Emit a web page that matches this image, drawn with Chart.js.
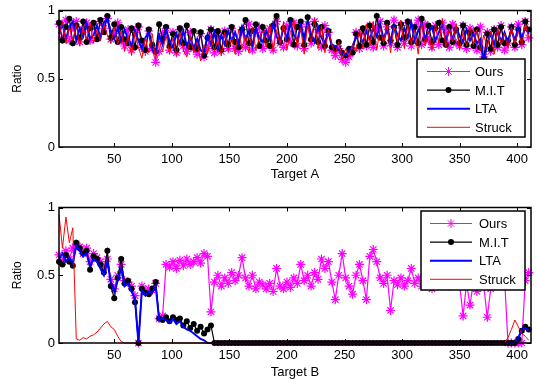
<!DOCTYPE html>
<html>
<head>
<meta charset="utf-8">
<script src="https://cdn.jsdelivr.net/npm/chart.js@4/dist/chart.umd.min.js"></script>
<style>
  body { margin: 0; background: #fff; }
  #wrap { position: relative; width: 537px; height: 380px; }
  #chartA { position: absolute; left: 0; top: 0; }
  #chartB { position: absolute; left: 0; top: 197px; }
</style>
</head>
<body>
<div id="wrap">
  <canvas id="chartA" width="537" height="184"></canvas>
  <canvas id="chartB" width="537" height="183"></canvas>
</div>
<script>
// frame numbers (every 3rd frame)
const frames = [
  2,5,8,11,14,17,20,23,26,29,
  32,35,38,41,44,47,50,53,56,59,
  62,65,68,71,74,77,80,83,86,89,
  92,95,98,101,104,107,110,113,116,119,
  122,125,128,131,134,137,140,143,146,149,
  152,155,158,161,164,167,170,173,176,179,
  182,185,188,191,194,197,200,203,206,209,
  212,215,218,221,224,227,230,233,236,239,
  242,245,248,251,254,257,260,263,266,269,
  272,275,278,281,284,287,290,293,296,299,
  302,305,308,311,314,317,320,323,326,329,
  332,335,338,341,344,347,350,353,356,359,
  362,365,368,371,374,377,380,383,386,389,
  392,395,398,401,404,407,410
];
const xTicks = [50, 100, 150, 200, 250, 300, 350, 400];
const yTicks = [0, 0.5, 1];
const seriesNames = ['Ours', 'M.I.T', 'LTA', 'Struck'];

// Target A
const oursA = [
  0.90,0.79,0.93,0.78,0.88,0.92,0.77,0.86,0.91,0.78,
  0.89,0.80,0.92,0.87,0.94,0.79,0.83,0.91,0.78,0.74,
  0.86,0.71,0.84,0.88,0.73,0.70,0.85,0.72,0.62,0.70,
  0.83,0.87,0.71,0.84,0.69,0.86,0.74,0.70,0.84,0.72,
  0.68,0.83,0.66,0.72,0.86,0.69,0.82,0.70,0.85,0.72,
  0.87,0.72,0.70,0.86,0.73,0.90,0.71,0.84,0.88,0.72,
  0.84,0.87,0.71,0.92,0.76,0.73,0.89,0.77,0.91,0.74,
  0.88,0.72,0.90,0.76,0.92,0.86,0.73,0.89,0.84,0.71,
  0.67,0.72,0.64,0.62,0.66,0.71,0.84,0.72,0.86,0.74,
  0.89,0.73,0.87,0.92,0.74,0.88,0.76,0.93,0.73,0.89,
  0.76,0.91,0.74,0.88,0.93,0.75,0.90,0.78,0.73,0.89,
  0.75,0.91,0.86,0.73,0.90,0.76,0.74,0.89,0.72,0.87,
  0.85,0.71,0.88,0.66,0.84,0.70,0.86,0.73,0.89,0.71,
  0.76,0.88,0.73,0.90,0.75,0.92,0.80
];
const mitA = [
  0.91,0.78,0.88,0.94,0.76,0.89,0.80,0.92,0.77,0.87,
  0.91,0.79,0.93,0.84,0.96,0.80,0.90,0.77,0.88,0.79,
  0.76,0.87,0.73,0.89,0.78,0.71,0.86,0.75,0.70,0.90,
  0.79,0.88,0.74,0.83,0.71,0.87,0.76,0.89,0.73,0.85,
  0.72,0.84,0.67,0.80,0.86,0.73,0.85,0.71,0.84,0.75,
  0.88,0.77,0.73,0.86,0.93,0.76,0.85,0.90,0.74,0.88,
  0.78,0.74,0.89,0.96,0.77,0.87,0.79,0.93,0.75,0.88,
  0.92,0.75,0.95,0.79,0.90,0.77,0.88,0.74,0.85,0.73,
  0.72,0.77,0.69,0.67,0.72,0.69,0.83,0.74,0.87,0.75,
  0.89,0.77,0.96,0.80,0.76,0.91,0.78,0.88,0.75,0.90,
  0.80,0.92,0.77,0.88,0.76,0.94,0.79,0.89,0.77,0.87,
  0.91,0.78,0.75,0.88,0.77,0.86,0.76,0.89,0.75,0.84,
  0.74,0.86,0.73,0.65,0.83,0.72,0.86,0.75,0.88,0.76,
  0.78,0.88,0.75,0.86,0.77,0.92,0.86
];
const ltaA = [
  0.83,0.90,0.79,0.88,0.92,0.78,0.87,0.81,0.90,0.79,
  0.82,0.89,0.80,0.91,0.94,0.85,0.79,0.87,0.78,0.86,
  0.79,0.74,0.85,0.78,0.72,0.80,0.84,0.71,0.68,0.82,
  0.75,0.86,0.78,0.73,0.83,0.76,0.85,0.74,0.80,0.72,
  0.79,0.71,0.69,0.82,0.75,0.84,0.72,0.82,0.75,0.85,
  0.78,0.84,0.76,0.88,0.79,0.85,0.74,0.87,0.80,0.77,
  0.85,0.79,0.90,0.81,0.76,0.88,0.79,0.91,0.82,0.78,
  0.89,0.80,0.92,0.83,0.77,0.88,0.80,0.76,0.85,0.75,
  0.74,0.71,0.69,0.67,0.70,0.74,0.80,0.83,0.76,0.85,
  0.79,0.87,0.81,0.90,0.79,0.86,0.77,0.89,0.82,0.78,
  0.87,0.80,0.91,0.78,0.85,0.90,0.79,0.84,0.88,0.78,
  0.84,0.90,0.78,0.86,0.79,0.88,0.81,0.77,0.86,0.78,
  0.83,0.76,0.79,0.62,0.76,0.83,0.75,0.85,0.77,0.84,
  0.76,0.86,0.78,0.88,0.80,0.87,0.83
];
const struckA = [
  0.80,0.92,0.76,0.88,0.78,0.90,0.74,0.87,0.79,0.91,
  0.76,0.86,0.78,0.89,0.82,0.76,0.88,0.75,0.85,0.70,
  0.82,0.67,0.84,0.73,0.65,0.80,0.69,0.83,0.64,0.78,
  0.70,0.82,0.68,0.80,0.67,0.84,0.71,0.66,0.81,0.69,
  0.77,0.63,0.75,0.68,0.82,0.70,0.79,0.67,0.84,0.70,
  0.80,0.68,0.86,0.72,0.82,0.69,0.88,0.71,0.80,0.85,
  0.73,0.90,0.70,0.86,0.75,0.92,0.71,0.84,0.93,0.73,
  0.87,0.68,0.90,0.76,0.94,0.72,0.89,0.69,0.86,0.75,
  0.68,0.77,0.64,0.72,0.66,0.75,0.70,0.86,0.72,0.90,
  0.74,0.92,0.71,0.87,0.76,0.90,0.69,0.88,0.77,0.93,
  0.72,0.89,0.75,0.86,0.68,0.91,0.74,0.85,0.71,0.90,
  0.76,0.94,0.73,0.87,0.77,0.90,0.71,0.84,0.74,0.88,
  0.75,0.86,0.70,0.82,0.73,0.85,0.68,0.87,0.75,0.83,
  0.72,0.88,0.76,0.85,0.74,0.90,0.80
];

// Target B
const oursB = [
  0.65,0.60,0.68,0.62,0.70,0.73,0.71,0.66,0.70,0.60,
  0.66,0.63,0.60,0.56,0.62,0.47,0.40,0.50,0.58,0.46,
  0.45,0.42,0.35,0,0.42,0.38,0.40,0.39,0.44,0.18,
  0.20,0.58,0.56,0.60,0.55,0.61,0.57,0.62,0.58,0.60,
  0.63,0.59,0.66,0.64,0.23,0.45,0.50,0.42,0.48,0.44,
  0.52,0.46,0.50,0.63,0.48,0.42,0.50,0.40,0.45,0.43,
  0.40,0.44,0.38,0.55,0.42,0.40,0.45,0.41,0.48,0.44,
  0.58,0.46,0.50,0.42,0.52,0.47,0.62,0.55,0.60,0.45,
  0.32,0.50,0.66,0.48,0.42,0.36,0.50,0.58,0.46,0.32,
  0.64,0.69,0.60,0.48,0.44,0.50,0.24,0.46,0.43,0.48,
  0.42,0.46,0.55,0.44,0.48,0.42,0.50,0.45,0.40,0.47,
  0.52,0.44,0.48,0.42,0.50,0.46,0.43,0.20,0.44,0.28,
  0.45,0.38,0.47,0.42,0.19,0.40,0.46,0.52,0.58,0.48,
  0,0,0,0,0,0.46,0.52
];
const mitB = [
  0.60,0.58,0.65,0.60,0.57,0.74,0.70,0.66,0.68,0.54,
  0.64,0.62,0.58,0.52,0.68,0.42,0.33,0.48,0.62,0.44,
  0.46,0.40,0.30,0,0.40,0.37,0.36,0.40,0.45,0.18,
  0.17,0.19,0.16,0.19,0.17,0.18,0.13,0.16,0.11,0.14,
  0.09,0.12,0.07,0.10,0.13,0,0,0,0,0,
  0,0,0,0,0,0,0,0,0,0,
  0,0,0,0,0,0,0,0,0,0,
  0,0,0,0,0,0,0,0,0,0,
  0,0,0,0,0,0,0,0,0,0,
  0,0,0,0,0,0,0,0,0,0,
  0,0,0,0,0,0,0,0,0,0,
  0,0,0,0,0,0,0,0,0,0,
  0,0,0,0,0,0,0,0,0,0,
  0,0,0,0.03,0.09,0.12,0.10
];
const ltaB = [
  0.62,0.66,0.60,0.63,0.59,0.72,0.68,0.64,0.66,0.57,
  0.62,0.60,0.55,0.50,0.60,0.45,0.38,0.46,0.55,0.42,
  0.44,0.38,0.33,0,0.39,0.35,0.38,0.37,0.42,0.17,
  0.18,0.17,0.15,0.18,0.14,0.16,0.12,0.10,0.09,0.07,
  0.05,0.03,0.02,0,0,0,0,0,0,0,
  0,0,0,0,0,0,0,0,0,0,
  0,0,0,0,0,0,0,0,0,0,
  0,0,0,0,0,0,0,0,0,0,
  0,0,0,0,0,0,0,0,0,0,
  0,0,0,0,0,0,0,0,0,0,
  0,0,0,0,0,0,0,0,0,0,
  0,0,0,0,0,0,0,0,0,0,
  0,0,0,0,0,0,0,0,0,0,
  0,0,0,0.04,0.10,0.11,0.09
];
const struckB = [
  0.95,0.70,0.93,0.74,0.85,0.03,0.02,0.04,0.03,0.05,
  0.06,0.08,0.11,0.14,0.16,0.12,0.10,0.05,0.01,0,
  0,0,0,0,0,0,0,0,0,0,
  0,0,0,0,0,0,0,0,0,0,
  0,0,0,0,0,0,0,0,0,0,
  0,0,0,0,0,0,0,0,0,0,
  0,0,0,0,0,0,0,0,0,0,
  0,0,0,0,0,0,0,0,0,0,
  0,0,0,0,0,0,0,0,0,0,
  0,0,0,0,0,0,0,0,0,0,
  0,0,0,0,0,0,0,0,0,0,
  0,0,0,0,0,0,0,0,0,0,
  0,0,0,0,0,0,0,0,0,0,
  0.04,0.10,0.17,0.12,0.07,0.05,0.02
];

const fontFamily = "'Liberation Sans', Arial, sans-serif";
const axisFont = { family: fontFamily, size: 13 };

function toPoints(values) {
  return values.map((v, i) => ({ x: frames[i], y: v }));
}

function drawMarker(ctx, style, r, cx, cy, color) {
  ctx.strokeStyle = color;
  ctx.fillStyle = color;
  ctx.lineWidth = 1;
  if (style === 'circle') {
    ctx.beginPath();
    ctx.arc(cx, cy, r, 0, Math.PI * 2);
    ctx.fill();
  } else if (style === 'star') {
    ctx.beginPath();
    for (let k = 0; k < 4; k++) {
      const a = k * Math.PI / 4;
      ctx.moveTo(cx - r * Math.cos(a), cy - r * Math.sin(a));
      ctx.lineTo(cx + r * Math.cos(a), cy + r * Math.sin(a));
    }
    ctx.stroke();
  }
}

// box, inward ticks and the in-axes legend (matlab look)
const framePlugin = {
  id: 'frame',
  afterDraw(chart, args, opts) {
    const { ctx, chartArea: a, scales: { x, y } } = chart;
    ctx.save();
    ctx.strokeStyle = '#000';
    ctx.lineWidth = 1.5;
    ctx.strokeRect(a.left, a.top, a.right - a.left, a.bottom - a.top);
    ctx.lineWidth = 1;
    ctx.beginPath();
    x.ticks.forEach(t => {
      const px = Math.round(x.getPixelForValue(t.value)) + 0.5;
      ctx.moveTo(px, a.bottom); ctx.lineTo(px, a.bottom - 4);
      ctx.moveTo(px, a.top); ctx.lineTo(px, a.top + 4);
    });
    y.ticks.forEach(t => {
      const py = Math.round(y.getPixelForValue(t.value)) + 0.5;
      ctx.moveTo(a.left, py); ctx.lineTo(a.left + 4, py);
      ctx.moveTo(a.right, py); ctx.lineTo(a.right - 4, py);
    });
    ctx.stroke();

    const b = opts.box;
    ctx.fillStyle = '#fff';
    ctx.fillRect(b.x0, b.y0, b.x1 - b.x0, b.y1 - b.y0);
    ctx.strokeStyle = '#000';
    ctx.lineWidth = 1.5;
    ctx.strokeRect(b.x0, b.y0, b.x1 - b.x0, b.y1 - b.y0);
    ctx.font = '13px ' + fontFamily;
    ctx.textBaseline = 'middle';
    chart.data.datasets.forEach((ds, k) => {
      const yy = b.y0 + 12.5 + k * 18.6;
      ctx.strokeStyle = ds.borderColor;
      ctx.lineWidth = ds.borderWidth;
      ctx.beginPath();
      ctx.moveTo(b.lineX0, yy);
      ctx.lineTo(b.lineX1, yy);
      ctx.stroke();
      if (ds.pointRadius > 0) {
        drawMarker(ctx, ds.pointStyle, ds.pointRadius, (b.lineX0 + b.lineX1) / 2, yy, ds.borderColor);
      }
      ctx.fillStyle = '#000';
      ctx.fillText(ds.label, b.textX, yy + 1);
    });
    ctx.restore();
  }
};

function makeChart(id, values, xTitle, titlePad, box) {
  return new Chart(document.getElementById(id), {
    type: 'line',
    data: {
      datasets: [
        { label: seriesNames[0], data: toPoints(values[0]), borderColor: '#ff00ff', backgroundColor: '#ff00ff',
          borderWidth: 1.2, pointStyle: 'star', pointRadius: 4.5, pointBorderWidth: 1.2, order: 4 },
        { label: seriesNames[1], data: toPoints(values[1]), borderColor: '#000000', backgroundColor: '#000000',
          borderWidth: 1.2, pointStyle: 'circle', pointRadius: 3, pointBorderWidth: 0, order: 3 },
        { label: seriesNames[2], data: toPoints(values[2]), borderColor: '#0000ff', backgroundColor: '#0000ff',
          borderWidth: 2, pointRadius: 0, order: 2 },
        { label: seriesNames[3], data: toPoints(values[3]), borderColor: '#ff0000', backgroundColor: '#ff0000',
          borderWidth: 1, pointRadius: 0, order: 1 }
      ]
    },
    options: {
      responsive: false,
      animation: false,
      events: [],
      clip: 8,
      layout: { padding: { left: 0, right: 6, top: 7, bottom: 0 } },
      elements: { line: { tension: 0 } },
      plugins: {
        legend: { display: false },
        tooltip: { enabled: false },
        frame: { box: box }
      },
      scales: {
        x: {
          type: 'linear',
          min: 2,
          max: 412,
          grid: { display: false, drawTicks: false },
          border: { display: false },
          afterBuildTicks: s => { s.ticks = xTicks.map(v => ({ value: v })); },
          afterFit: s => { s.height = 37; },
          ticks: { padding: 5, color: '#000', autoSkip: false, maxRotation: 0, font: axisFont },
          title: { display: true, text: xTitle, color: '#000', font: axisFont, padding: { top: 0, bottom: titlePad } }
        },
        y: {
          min: 0,
          max: 1,
          grid: { display: false, drawTicks: false },
          border: { display: false },
          afterBuildTicks: s => { s.ticks = yTicks.map(v => ({ value: v })); },
          afterFit: s => { s.width = 59; },
          ticks: { padding: 4, color: '#000', font: { family: fontFamily, size: 13, lineHeight: 1 },
                   callback: v => String(v) },
          title: { display: true, text: 'Ratio', color: '#000', font: { family: fontFamily, size: 12 }, padding: { top: 10, bottom: 0 } }
        }
      }
    },
    plugins: [framePlugin]
  });
}

makeChart('chartA', [oursA, mitA, ltaA, struckA], 'Target A', 2,
  { x0: 417, y0: 59, x1: 525, y1: 137, lineX0: 427, lineX1: 470, textX: 475 });
makeChart('chartB', [oursB, mitB, ltaB, struckB], 'Target B', 0,
  { x0: 421, y0: 14, x1: 525, y1: 93, lineX0: 430, lineX1: 472, textX: 479 });
</script>
</body>
</html>
